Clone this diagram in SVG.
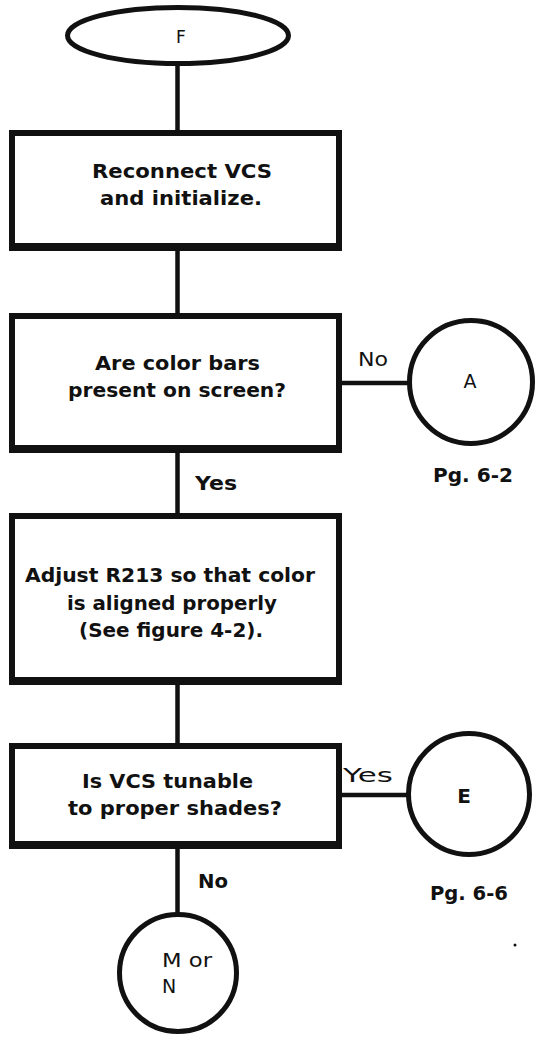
<svg xmlns="http://www.w3.org/2000/svg" width="540" height="1038" viewBox="0 0 540 1038">
<style>
.box{fill:#fff;stroke:#111;stroke-width:6}
.base{stroke:#111;stroke-width:8;fill:none}
.term{fill:#fff;stroke:#111;stroke-width:5}
.conn{stroke:#111;stroke-width:4.5;fill:none}
text{font-family:"DejaVu Sans","Liberation Sans",sans-serif;font-size:20px;fill:#111;font-weight:bold}
.c{text-anchor:middle}
.lab{font-weight:normal;font-size:19px}
</style>
<rect width="540" height="1038" fill="#fff"/>
<g id="connectors">
<line class="conn" x1="177.5" y1="64" x2="177.5" y2="133"/>
<line class="conn" x1="177.5" y1="248" x2="177.5" y2="316"/>
<line class="conn" x1="177.5" y1="450" x2="177.5" y2="516"/>
<line class="conn" x1="177.5" y1="682" x2="177.5" y2="746"/>
<line class="conn" x1="177.5" y1="846" x2="177.5" y2="914"/>
<line class="conn" x1="339" y1="383" x2="409" y2="383"/>
<line class="conn" x1="339" y1="795" x2="408" y2="795"/>
<text class="lab" x="358" y="366" textLength="30" lengthAdjust="spacingAndGlyphs">No</text>
<text x="195" y="490" textLength="42" lengthAdjust="spacingAndGlyphs">Yes</text>
<text class="lab" x="343" y="782" textLength="50" lengthAdjust="spacingAndGlyphs">Yes</text>
<text x="198" y="888" textLength="30" lengthAdjust="spacingAndGlyphs">No</text>
</g>
<g id="start">
<ellipse class="term" cx="178" cy="35.5" rx="110.5" ry="28"/>
<text class="c lab" x="181" y="43" style="font-size:17px">F</text>
</g>
<g id="step1">
<rect class="box" x="12" y="133" width="327" height="114"/>
<line class="base" x1="9" y1="247" x2="342" y2="247"/>
<text x="92" y="178" textLength="180" lengthAdjust="spacingAndGlyphs">Reconnect VCS</text>
<text x="100" y="205" textLength="162" lengthAdjust="spacingAndGlyphs">and initialize.</text>
</g>
<g id="decision1">
<rect class="box" x="12" y="316" width="327" height="133"/>
<line class="base" x1="9" y1="449" x2="342" y2="449"/>
<text x="95" y="370" textLength="165" lengthAdjust="spacingAndGlyphs">Are color bars</text>
<text x="68" y="397" textLength="218" lengthAdjust="spacingAndGlyphs">present on screen?</text>
</g>
<g id="connA">
<circle class="term" cx="471" cy="382" r="61.5"/>
<text class="c lab" x="470" y="388">A</text>
<text x="433" y="482" textLength="80" lengthAdjust="spacingAndGlyphs">Pg. 6-2</text>
</g>
<g id="step2">
<rect class="box" x="12" y="516" width="327" height="165"/>
<line class="base" x1="9" y1="681" x2="342" y2="681"/>
<text x="25" y="582" textLength="290" lengthAdjust="spacingAndGlyphs">Adjust R213 so that color</text>
<text x="67" y="610" textLength="210" lengthAdjust="spacingAndGlyphs">is aligned properly</text>
<text x="79" y="637" textLength="184" lengthAdjust="spacingAndGlyphs">(See figure 4-2).</text>
</g>
<g id="decision2">
<rect class="box" x="12" y="746" width="327" height="99"/>
<line class="base" x1="9" y1="845" x2="342" y2="845"/>
<text x="82" y="788" textLength="171" lengthAdjust="spacingAndGlyphs">Is VCS tunable</text>
<text x="68" y="815" textLength="214" lengthAdjust="spacingAndGlyphs">to proper shades?</text>
</g>
<g id="connE">
<circle class="term" cx="469" cy="794" r="60.5"/>
<text class="c" x="464" y="803">E</text>
<text x="430" y="900" textLength="78" lengthAdjust="spacingAndGlyphs">Pg. 6-6</text>
</g>
<g id="connMN">
<circle class="term" cx="178" cy="973" r="58.5"/>
<text class="lab" x="162" y="967" textLength="50" lengthAdjust="spacingAndGlyphs">M or</text>
<text class="lab" x="162" y="993">N</text>
</g>
<circle cx="515" cy="945" r="1.5" fill="#111"/>
</svg>
